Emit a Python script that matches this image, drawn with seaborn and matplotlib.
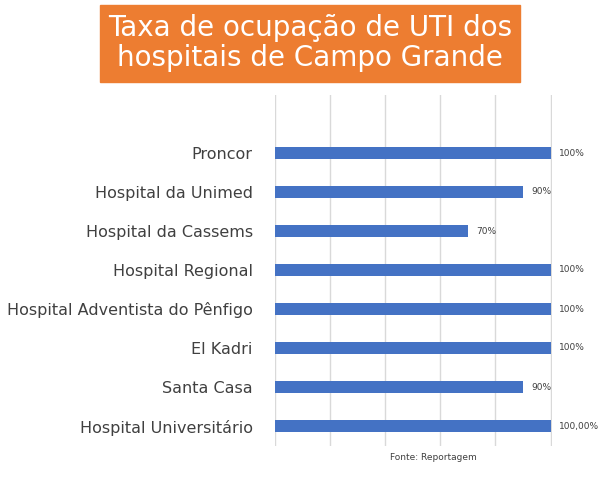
import matplotlib
matplotlib.use("Agg")
import matplotlib.pyplot as plt
import seaborn as sns
import pandas as pd

hospitals = ["Proncor", "Hospital da Unimed", "Hospital da Cassems", "Hospital Regional",
             "Hospital Adventista do Pênfigo", "El Kadri", "Santa Casa", "Hospital Universitário"]
values = [100, 90, 70, 100, 100, 100, 90, 100]
labels = ["100%", "90%", "70%", "100%", "100%", "100%", "90%", "100,00%"]

df = pd.DataFrame({"h": hospitals, "v": values})
fig = plt.figure(figsize=(6.09, 4.80), dpi=100)
ax = fig.add_axes([275/609, 1-445.5/480, (552-275)/609, (445.5-94.5)/480])
sns.barplot(data=df, x="v", y="h", color="#4472C4", width=0.3, ax=ax, saturation=1)
ax.set_xlim(0, 100.5)
ax.set_ylim(7.5, -1.5)
ax.set_xticks([0, 20, 40, 60, 80, 100])
ax.set_xticklabels([])
ax.tick_params(length=0)
ax.grid(axis="x", color="#d9d9d9", lw=1)
ax.set_axisbelow(True)
for s in ax.spines.values():
    s.set_visible(False)
ax.set_xlabel(""); ax.set_ylabel("")
ax.tick_params(axis="y", labelsize=11.5, labelcolor="#404040", pad=16)
for i, (v, l) in enumerate(zip(values, labels)):
    ax.text(v + 3, i, l, va="center", ha="left", fontsize=6.5, color="#404040", clip_on=False)
fig.text(390/609, 1-457/480, "Fonte: Reportagem", fontsize=6.5, color="#404040", va="center")
fig.patches.append(plt.Rectangle((100/609, 1-82/480), 420/609, 77/480, transform=fig.transFigure,
                                 color="#ED7D31", zorder=0))
fig.text(310/609, 1-43/480, "Taxa de ocupação de UTI dos\nhospitais de Campo Grande",
         ha="center", va="center", color="white", fontsize=20, linespacing=1.1)
fig.savefig("out.png", dpi=100)
